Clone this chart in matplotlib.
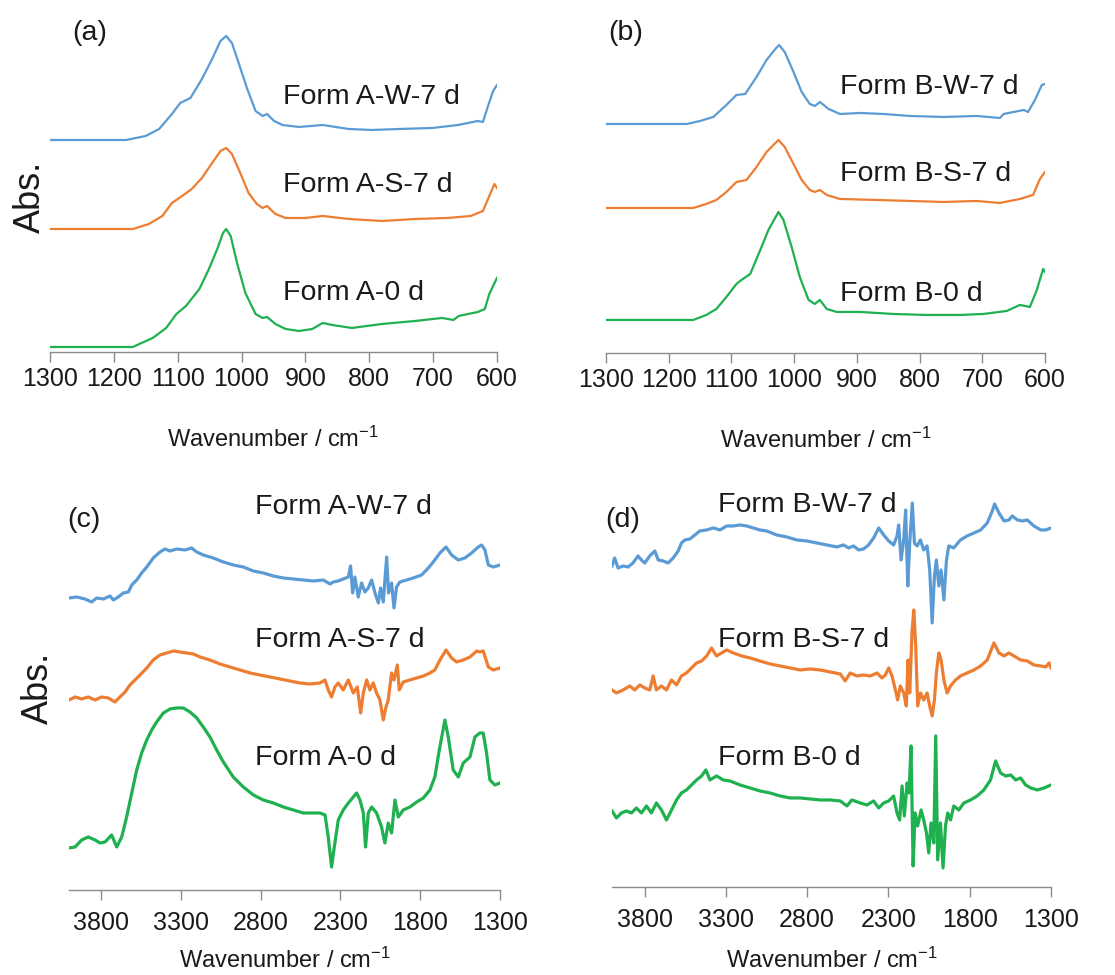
import matplotlib
matplotlib.use("Agg")
import matplotlib.pyplot as plt

plt.rcParams['font.family'] = ['Liberation Sans', 'DejaVu Sans']
plt.rcParams['mathtext.fontset'] = 'custom'
plt.rcParams['mathtext.rm'] = 'Liberation Sans'
plt.rcParams['mathtext.default'] = 'regular'

BLUE = '#5b9bd5'
ORANGE = '#ed7d31'
GREEN = '#1fb04f'
AXIS_GRAY = '#8c8c8c'
TEXT = '#1a1a1a'

# ---- (a) Form A, 1300-600 cm-1 (stacked, arbitrary absorbance units) ----
a_w7_wn = [1300, 1181, 1150, 1129, 1109, 1096, 1080, 1062, 1046, 1033, 1024, 1015, 1004, 991,
           978, 967, 960, 949, 936, 910, 873, 832, 795, 753, 701, 661, 630, 622, 614, 606, 600]
a_w7 = [212, 212, 216, 223, 238, 249, 254, 273, 293, 311, 316, 309, 288, 263,
        241, 236, 238, 231, 227, 225, 227, 223, 222, 223, 224, 227, 231, 230, 246, 261, 267]

a_s7_wn = [1300, 1170, 1145, 1124, 1109, 1093, 1078, 1062, 1046, 1033, 1024, 1015, 1002, 989,
           976, 967, 960, 947, 931, 900, 873, 832, 780, 728, 677, 641, 622, 612, 604, 600]
a_s7 = [123, 123, 128, 136, 149, 156, 163, 174, 189, 201, 204, 198, 179, 159,
        148, 144, 146, 138, 134, 134, 136, 133, 131, 133, 134, 136, 141, 156, 168, 164]

a_0_wn = [1300, 1170, 1160, 1139, 1118, 1102, 1087, 1066, 1051, 1038, 1029, 1024, 1017, 1007,
          994, 978, 967, 960, 947, 931, 910, 889, 873, 858, 827, 780, 728, 686, 668, 660,
          630, 619, 612, 600]
a_0 = [5, 5, 8, 14, 24, 38, 46, 63, 83, 103, 119, 123, 116, 89,
       59, 38, 34, 35, 28, 23, 21, 23, 29, 27, 24, 28, 31, 34, 32, 36,
       40, 43, 58, 74]

# ---- (b) Form B, 1300-600 cm-1 ----
b_w7_wn = [1300, 1171, 1150, 1129, 1108, 1092, 1078, 1060, 1044, 1030, 1024, 1015, 1001, 988,
           975, 967, 959, 945, 927, 895, 858, 815, 762, 709, 672, 666, 634, 627, 616, 605, 600]
b_w7 = [229, 229, 232, 236, 248, 258, 259, 276, 293, 304, 308, 301, 281, 261,
        249, 247, 251, 244, 239, 240, 239, 237, 236, 237, 235, 239, 243, 241, 253, 268, 269]

b_s7_wn = [1300, 1161, 1140, 1124, 1108, 1092, 1076, 1060, 1044, 1025, 1015, 1001, 988, 975,
           967, 959, 948, 927, 869, 815, 762, 709, 672, 640, 619, 608, 600]
b_s7 = [145, 145, 149, 153, 161, 171, 173, 186, 201, 213, 206, 189, 173, 163,
        161, 163, 158, 154, 153, 152, 151, 152, 150, 154, 158, 174, 181]

b_0_wn = [1300, 1161, 1140, 1124, 1108, 1092, 1084, 1070, 1054, 1041, 1025, 1017, 1004, 991,
          977, 967, 959, 948, 932, 895, 842, 789, 736, 698, 661, 640, 624, 613, 603, 600]
b_0 = [33, 33, 38, 44, 56, 69, 73, 79, 103, 123, 141, 133, 106, 76,
       53, 49, 53, 44, 41, 41, 39, 38, 38, 39, 42, 48, 46, 63, 84, 81]

# ---- (c) Form A, 4000-1300 cm-1 ----
c_w7_wn = [4000, 3952, 3900, 3858, 3827, 3785, 3743, 3722, 3691, 3660, 3628, 3607, 3576, 3545,
           3513, 3472, 3430, 3399, 3367, 3326, 3273, 3232, 3200, 3159, 3096, 3033, 2971, 2908,
           2845, 2783, 2720, 2657, 2595, 2532, 2469, 2407, 2365, 2344, 2313, 2282, 2250, 2236,
           2223, 2209, 2188, 2167, 2146, 2125, 2104, 2083, 2062, 2048, 2031, 2010, 1998, 1979,
           1964, 1948, 1927, 1885, 1843, 1791, 1749, 1718, 1676, 1638, 1603, 1561, 1520, 1478,
           1436, 1415, 1394, 1373, 1342, 1300]
c_w7 = [292, 293, 291, 288, 292, 291, 294, 290, 293, 297, 298, 305, 310, 317,
        323, 332, 338, 341, 339, 341, 340, 342, 338, 335, 332, 328, 325, 323,
        319, 317, 314, 312, 311, 310, 309, 310, 306, 308, 309, 311, 313, 324,
        297, 313, 293, 307, 298, 302, 310, 297, 287, 302, 288, 333, 297, 307,
        282, 303, 308, 310, 312, 315, 322, 328, 337, 343, 335, 330, 332, 337,
        343, 345, 340, 325, 323, 325]

c_s7_wn = [4000, 3962, 3921, 3879, 3837, 3795, 3754, 3712, 3681, 3649, 3618, 3587, 3555, 3513,
           3472, 3430, 3388, 3346, 3305, 3263, 3221, 3179, 3117, 3054, 2992, 2929, 2866, 2804,
           2741, 2678, 2616, 2553, 2490, 2428, 2396, 2376, 2355, 2334, 2313, 2282, 2250, 2219,
           2194, 2173, 2156, 2135, 2115, 2094, 2073, 2052, 2031, 2014, 2000, 1979, 1964, 1943,
           1931, 1906, 1864, 1822, 1780, 1739, 1708, 1676, 1638, 1603, 1572, 1530, 1488, 1446,
           1426, 1405, 1373, 1342, 1300]
c_s7 = [190, 193, 191, 193, 190, 193, 192, 188, 193, 198, 205, 210, 215, 222,
        230, 235, 237, 239, 238, 237, 236, 233, 230, 226, 223, 220, 217, 215,
        213, 211, 209, 207, 206, 207, 210, 200, 193, 203, 207, 200, 210, 197,
        203, 177, 197, 210, 200, 207, 197, 190, 170, 183, 190, 217, 210, 225,
        200, 208, 210, 212, 214, 217, 220, 230, 240, 232, 228, 230, 233, 239,
        238, 239, 223, 220, 222]

c_0_wn = [4000, 3962, 3921, 3879, 3837, 3806, 3774, 3733, 3701, 3670, 3639, 3607, 3576, 3545,
          3513, 3482, 3451, 3409, 3367, 3326, 3284, 3242, 3200, 3159, 3117, 3075, 3033, 2971,
          2908, 2845, 2783, 2720, 2657, 2595, 2532, 2469, 2428, 2396, 2376, 2355, 2338, 2313,
          2282, 2250, 2219, 2198, 2177, 2156, 2142, 2125, 2104, 2073, 2042, 2021, 2000, 1979,
          1958, 1937, 1906, 1864, 1822, 1780, 1739, 1708, 1680, 1645, 1624, 1593, 1561, 1530,
          1488, 1457, 1426, 1405, 1384, 1363, 1332, 1300]
c_0 = [42, 43, 50, 53, 50, 47, 48, 55, 43, 53, 73, 97, 120, 137,
       150, 160, 168, 177, 181, 182, 182, 178, 172, 163, 153, 140, 128, 113,
       103, 95, 90, 87, 83, 80, 77, 77, 77, 75, 53, 23, 43, 70,
       80, 87, 93, 97, 90, 77, 43, 77, 83, 77, 63, 47, 67, 57,
       90, 73, 80, 83, 88, 92, 100, 113, 140, 170, 153, 120, 113, 127,
       133, 153, 157, 157, 137, 110, 105, 107]

# ---- (d) Form B, 4000-1300 cm-1 ----
d_w7_wn = [4000, 3984, 3963, 3932, 3901, 3871, 3840, 3819, 3799, 3768, 3737, 3716, 3686, 3655,
           3624, 3593, 3573, 3552, 3521, 3490, 3460, 3418, 3377, 3336, 3295, 3254, 3213, 3172,
           3131, 3090, 3049, 2987, 2925, 2864, 2802, 2740, 2679, 2617, 2576, 2545, 2514, 2483,
           2453, 2422, 2391, 2360, 2329, 2298, 2268, 2247, 2237, 2222, 2206, 2194, 2181, 2169,
           2153, 2140, 2124, 2103, 2083, 2062, 2046, 2031, 2017, 2005, 1990, 1976, 1959, 1943,
           1929, 1898, 1857, 1816, 1774, 1733, 1692, 1661, 1647, 1620, 1589, 1559, 1538, 1507,
           1476, 1446, 1405, 1363, 1333, 1300]
d_w7 = [321, 329, 319, 321, 320, 324, 331, 327, 324, 331, 336, 327, 326, 324,
        329, 336, 344, 347, 348, 352, 356, 357, 359, 357, 361, 361, 362, 361,
        359, 357, 356, 352, 350, 347, 346, 344, 342, 340, 342, 339, 341, 337,
        338, 342, 349, 359, 352, 346, 342, 351, 362, 327, 347, 377, 301, 344,
        384, 344, 341, 347, 337, 341, 317, 264, 311, 327, 301, 317, 287, 327,
        341, 339, 347, 351, 354, 357, 364, 376, 383, 374, 366, 367, 371, 367,
        366, 367, 361, 357, 357, 359]

d_s7_wn = [4000, 3973, 3932, 3891, 3860, 3829, 3799, 3768, 3747, 3727, 3696, 3665, 3634, 3603,
           3573, 3542, 3511, 3480, 3449, 3418, 3388, 3357, 3326, 3295, 3254, 3203, 3151, 3090,
           3028, 2966, 2905, 2843, 2781, 2720, 2658, 2596, 2566, 2535, 2494, 2453, 2411, 2370,
           2340, 2319, 2298, 2278, 2257, 2243, 2227, 2206, 2190, 2179, 2169, 2155, 2144, 2132,
           2120, 2103, 2083, 2062, 2046, 2031, 2017, 2005, 1990, 1976, 1959, 1939, 1918, 1887,
           1857, 1816, 1774, 1733, 1692, 1651, 1620, 1589, 1559, 1528, 1487, 1446, 1405, 1363,
           1333, 1312, 1300]
d_s7 = [197, 194, 197, 201, 197, 202, 199, 197, 211, 197, 201, 197, 207, 202,
        211, 214, 219, 224, 226, 231, 239, 231, 234, 237, 234, 231, 229, 226,
        223, 221, 219, 217, 218, 217, 215, 213, 206, 214, 211, 212, 211, 214,
        209, 212, 219, 211, 197, 187, 201, 194, 181, 227, 194, 254, 277, 241,
        181, 194, 187, 194, 181, 171, 187, 214, 234, 227, 207, 194, 201, 207,
        211, 214, 217, 221, 227, 244, 234, 231, 234, 231, 227, 226, 222, 221,
        220, 224, 219]

d_0_wn = [4000, 3973, 3942, 3912, 3881, 3850, 3819, 3788, 3758, 3727, 3696, 3665, 3634, 3603,
          3573, 3542, 3511, 3480, 3449, 3423, 3398, 3357, 3316, 3275, 3213, 3151, 3090, 3028,
          2966, 2905, 2843, 2781, 2720, 2658, 2596, 2555, 2525, 2473, 2432, 2391, 2360, 2329,
          2298, 2268, 2247, 2231, 2216, 2202, 2185, 2173, 2161, 2148, 2136, 2120, 2099, 2083,
          2066, 2052, 2038, 2021, 2009, 1997, 1980, 1964, 1949, 1935, 1918, 1898, 1867, 1836,
          1795, 1754, 1713, 1672, 1641, 1610, 1579, 1548, 1517, 1487, 1456, 1425, 1384, 1343,
          1300]
d_0 = [76, 69, 74, 76, 74, 79, 74, 81, 74, 84, 77, 67, 77, 87,
       94, 97, 102, 107, 111, 117, 107, 111, 107, 106, 102, 99, 96, 94,
       91, 89, 89, 88, 87, 87, 86, 81, 87, 84, 82, 86, 79, 84,
       86, 91, 74, 67, 101, 71, 104, 94, 141, 21, 74, 61, 77, 67,
       54, 34, 64, 44, 151, 27, 64, 19, 61, 74, 67, 81, 77, 84,
       87, 91, 97, 107, 126, 114, 111, 112, 107, 109, 102, 99, 97, 99,
       102]

panels = [
    dict(rect=[0.0448, 0.6390, 0.4009, 0.3405], xlim=(1300, 600), ylim=(0, 332),
         ticks=[1300, 1200, 1100, 1000, 900, 800, 700, 600], lw=1.6, tickpad=4,
         series=[(a_w7_wn, a_w7, BLUE), (a_s7_wn, a_s7, ORANGE), (a_0_wn, a_0, GREEN)],
         labels=[(935, 255, 'Form A-W-7 d'), (935, 167, 'Form A-S-7 d'), (935, 59, 'Form A-0 d')],
         letter=('(a)', 0.049, 0.961), xlabel_y=-0.262),
    dict(rect=[0.5435, 0.6380, 0.3937, 0.3415], xlim=(1300, 600), ylim=(0, 333),
         ticks=[1300, 1200, 1100, 1000, 900, 800, 700, 600], lw=1.6, tickpad=4,
         series=[(b_w7_wn, b_w7, BLUE), (b_s7_wn, b_s7, ORANGE), (b_0_wn, b_0, GREEN)],
         labels=[(927, 266, 'Form B-W-7 d'), (927, 179, 'Form B-S-7 d'), (927, 59, 'Form B-0 d')],
         letter=('(b)', 0.005, 0.961), xlabel_y=-0.262),
    dict(rect=[0.0619, 0.0872, 0.3865, 0.4205], xlim=(4000, 1300), ylim=(0, 410),
         ticks=[3800, 3300, 2800, 2300, 1800, 1300], lw=2.3, tickpad=8,
         series=[(c_w7_wn, c_w7, BLUE), (c_s7_wn, c_s7, ORANGE), (c_0_wn, c_0, GREEN)],
         labels=[(2835, 383, 'Form A-W-7 d'), (2835, 250, 'Form A-S-7 d'), (2835, 132, 'Form A-0 d')],
         letter=('(c)', -0.005, 0.902), xlabel_y=-0.171),
    dict(rect=[0.5489, 0.0903, 0.3937, 0.4205], xlim=(4000, 1300), ylim=(0, 410),
         ticks=[3800, 3300, 2800, 2300, 1800, 1300], lw=2.3, tickpad=8,
         series=[(d_w7_wn, d_w7, BLUE), (d_s7_wn, d_s7, ORANGE), (d_0_wn, d_0, GREEN)],
         labels=[(3348, 382, 'Form B-W-7 d'), (3348, 247, 'Form B-S-7 d'), (3348, 129, 'Form B-0 d')],
         letter=('(d)', -0.016, 0.895), xlabel_y=-0.178),
]

fig = plt.figure(figsize=(11.15, 9.75), dpi=100)

for p in panels:
    ax = fig.add_axes(p['rect'])
    for wn, ab, col in p['series']:
        ax.plot(wn, ab, color=col, lw=p['lw'], solid_joinstyle='round')
    ax.set_xlim(*p['xlim'])
    ax.set_ylim(*p['ylim'])
    ax.set_xticks(p['ticks'])
    ax.set_yticks([])
    for s in ['top', 'right', 'left']:
        ax.spines[s].set_visible(False)
    ax.spines['bottom'].set_color(AXIS_GRAY)
    ax.spines['bottom'].set_linewidth(1.0)
    ax.tick_params(axis='x', direction='out', length=7, width=1.0, color=AXIS_GRAY,
                   labelsize=18, labelcolor=TEXT, pad=p['tickpad'])
    ax.set_xlabel('Wavenumber / cm$^{-1}$', fontsize=17, color=TEXT)
    ax.xaxis.label.set_verticalalignment('center')
    ax.xaxis.set_label_coords(0.5, p['xlabel_y'])
    for x, y, txt in p['labels']:
        ax.text(x, y, txt, fontsize=20.5, color=TEXT, ha='left', va='center')
    lt, lx, ly = p['letter']
    ax.text(lx, ly, lt, transform=ax.transAxes, fontsize=20.5, color=TEXT,
            ha='left', va='center')
    ax.patch.set_alpha(0)

fig.text(30 / 1115, 1 - 197 / 975, 'Abs.', rotation=90, fontsize=26, color=TEXT,
         ha='center', va='center')
fig.text(38 / 1115, 1 - 688 / 975, 'Abs.', rotation=90, fontsize=26, color=TEXT,
         ha='center', va='center')

fig.savefig('out.png', dpi=100)
